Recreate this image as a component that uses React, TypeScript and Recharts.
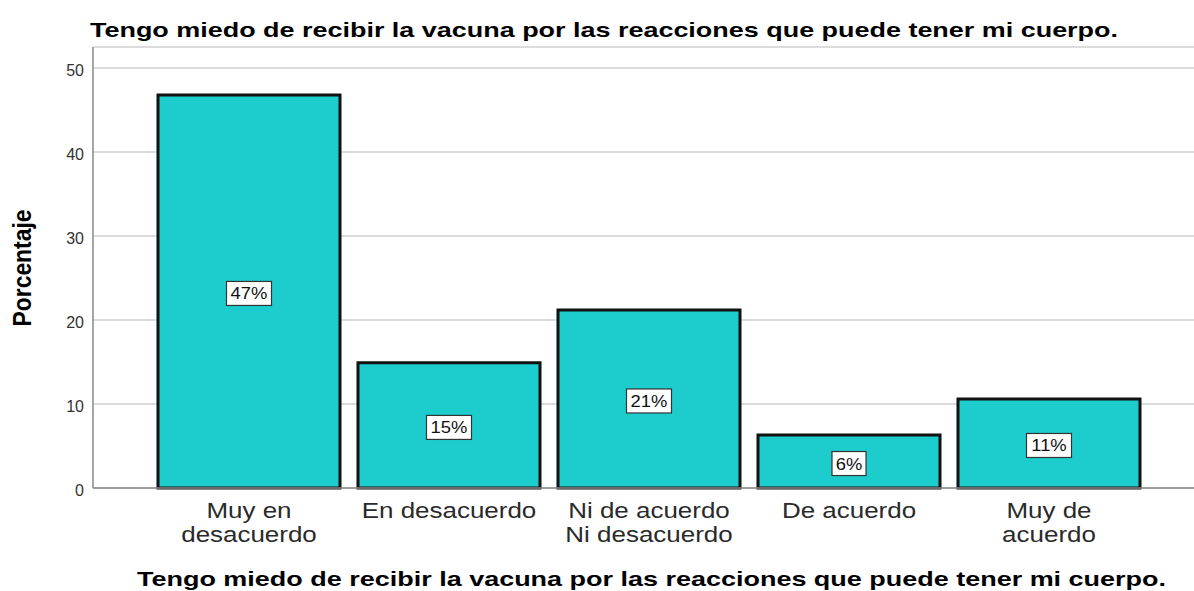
import React from 'react';
import { BarChart, Bar, XAxis, YAxis, CartesianGrid, LabelList } from 'recharts';

const categories = ['Muy en\ndesacuerdo', 'En desacuerdo', 'Ni de acuerdo\nNi desacuerdo', 'De acuerdo', 'Muy de\nacuerdo'];
const percentages = [46.8, 14.9, 21.2, 6.3, 10.6];
const barLabels = ['47%', '15%', '21%', '6%', '11%'];
const yTicks = [0, 10, 20, 30, 40, 50];

const title = 'Tengo miedo de recibir la vacuna por las reacciones que puede tener mi cuerpo.';
const yTitle = 'Porcentaje';

const data = categories.map((name, i) => ({ name, value: percentages[i], label: barLabels[i] }));

const FONT = 'Liberation Sans, Arial, sans-serif';

const CategoryTick = (props: any) => {
  const { x, y, payload } = props;
  const lines = String(payload.value).split('\n');
  return (
    <g transform={`translate(${x},${y}) scale(1.18,1)`}>
      {lines.map((l, i) => (
        <text key={i} x={0} y={22 + i * 24} textAnchor="middle" fill="#2a2a2a" fontSize={22} fontFamily={FONT}>{l}</text>
      ))}
    </g>
  );
};

const ValueTick = (props: any) => {
  const { y, payload } = props;
  return (
    <text x={84} y={y + 8} textAnchor="end" fill="#333" fontSize={16} fontFamily={FONT}>{payload.value}</text>
  );
};

const BoxLabel = (props: any) => {
  const { x, y, width, height, value } = props;
  const cx = x + width / 2;
  const cy = y + height / 2 + 2;
  const w = String(value).length * 11 + 12;
  const h = 24;
  return (
    <g>
      <rect x={cx - w / 2} y={cy - h / 2} width={w} height={h} fill="#fff" stroke="#333" strokeWidth={1.2} />
      <g transform={`translate(${cx},${cy + 6}) scale(1.15,1)`}>
        <text x={0} y={0} textAnchor="middle" fontSize={16} fill="#111" fontFamily={FONT}>{value}</text>
      </g>
    </g>
  );
};

export default function App() {
  return (
    <div style={{ position: 'absolute', left: 0, top: 0, width: 1194, height: 591, background: '#fff' }}>
      <BarChart width={1194} height={591} data={data} margin={{ top: 47, right: 0, bottom: 0, left: 0 }} barSize={182}>
        <CartesianGrid vertical={false} stroke="#d0d0d0" strokeWidth={1.5} />
        <XAxis dataKey="name" height={103} tick={<CategoryTick />} tickLine={false} axisLine={{ stroke: '#888', strokeWidth: 1.5 }} padding={{ left: 56, right: 45 }} interval={0} />
        <YAxis width={93} domain={[0, 52.5]} ticks={yTicks} tickLine={false} axisLine={{ stroke: '#888', strokeWidth: 1.5 }} tick={<ValueTick />} />
        <Bar dataKey="value" fill="#1dcdcd" stroke="#111" strokeWidth={3} isAnimationActive={false}>
          <LabelList dataKey="label" content={<BoxLabel />} />
        </Bar>
      </BarChart>
      <svg width={1194} height={591} style={{ position: 'absolute', left: 0, top: 0, pointerEvents: 'none' }}>
        <text x={90} y={37} textLength={1028} lengthAdjust="spacingAndGlyphs" fontSize={21} fontWeight="bold" fontFamily={FONT} fill="#000">{title}</text>
        <g transform="translate(31,268) scale(1.15,1) rotate(-90)">
          <text x={0} y={0} textAnchor="middle" textLength={117} lengthAdjust="spacingAndGlyphs" fontSize={22} fontWeight="bold" fontFamily={FONT} fill="#000">{yTitle}</text>
        </g>
        <text x={137} y={586} textLength={1029} lengthAdjust="spacingAndGlyphs" fontSize={21} fontWeight="bold" fontFamily={FONT} fill="#000">{title}</text>
      </svg>
    </div>
  );
}
